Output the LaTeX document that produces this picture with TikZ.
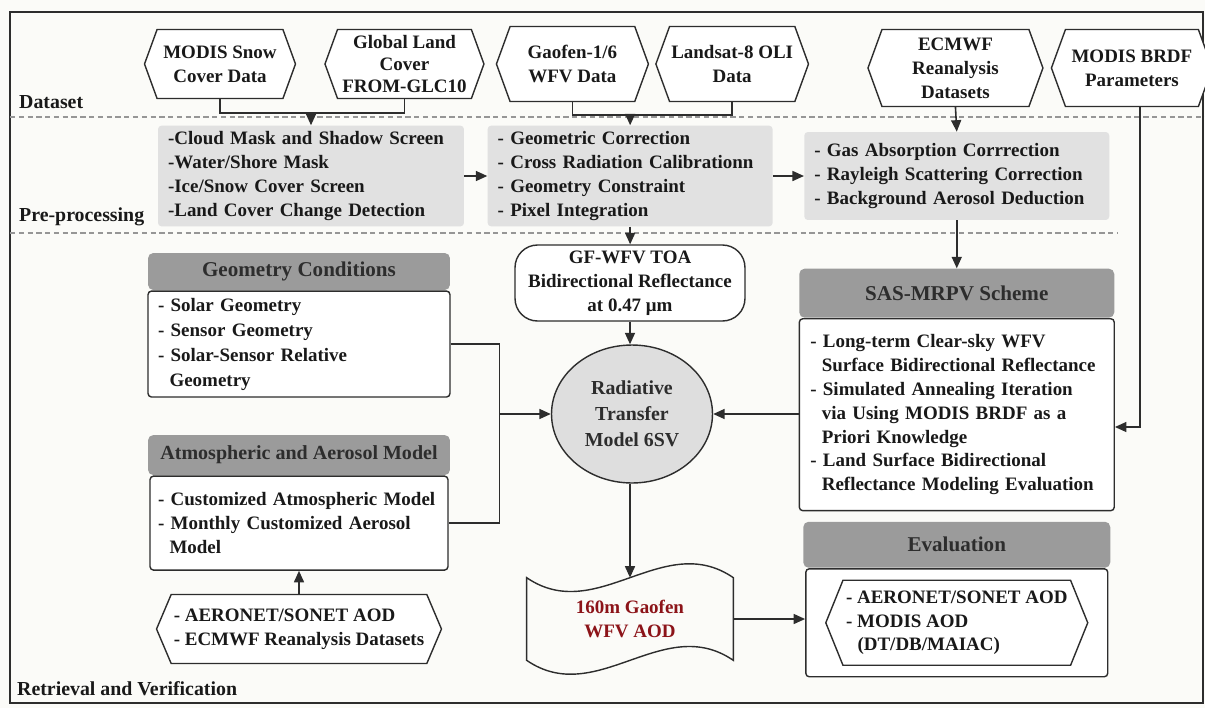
\documentclass[tikz,border=0pt]{standalone}
\usepackage{fontspec}
\setmainfont{Liberation Serif}
\usetikzlibrary{positioning, arrows.meta, shapes.geometric, shapes.symbols}

\definecolor{bgcol}{RGB}{251,251,248}
\definecolor{linecol}{RGB}{45,45,45}
\definecolor{prefill}{RGB}{225,225,225}
\definecolor{headfill}{RGB}{155,155,155}
\definecolor{headtext}{RGB}{45,45,45}
\definecolor{rtmfill}{RGB}{222,222,222}
\definecolor{aodred}{RGB}{140,20,25}
\definecolor{sepcol}{RGB}{150,150,150}

\begin{document}
\begin{tikzpicture}[
    x=0.02cm, y=-0.02cm,
    base/.style = {font=\fontsize{10.8}{13.6}\selectfont\bfseries, text=black!90},
    hexa/.style = {base, signal, signal to=west and east, signal pointer angle=140, draw=linecol, fill=white, line width=0.8pt, align=center, inner sep=1pt, minimum height=1.38cm},
    prebox/.style = {base, rectangle, fill=prefill, rounded corners=2pt, align=left, inner xsep=0.2cm, minimum height=1.84cm},
    head/.style = {base, rectangle, fill=headfill, rounded corners=3pt, text=headtext, font=\fontsize{12}{14}\selectfont\bfseries},
    body/.style = {base, rectangle, draw=linecol, fill=white, line width=0.8pt, rounded corners=2pt, align=left, inner xsep=0.2cm},
    line/.style = {draw=linecol, line width=0.9pt},
    arrow/.style = {line, -{Triangle[length=2.3mm, width=2mm]}},
    sep/.style = {draw=sepcol, line width=0.6pt, dash pattern=on 3pt off 2pt},
    zone/.style = {base, font=\fontsize{11.3}{14}\selectfont\bfseries, anchor=west}
]
    % page and frame
    \fill[bgcol] (0,0) rectangle (1205,708);
    \useasboundingbox (0,0) rectangle (1205,708);
    \draw[linecol, line width=0.9pt] (10,12) rectangle (1203,703);
    \draw[sep] (10,117) -- (1205,117);
    \draw[sep] (10,233) -- (1117,233);

    \node[zone] (lbldata) at (13,102) {Dataset};
    \node[zone] (lblpre) at (13,217) {Pre-processing};
    \node[zone] (lblret) at (11,689) {Retrieval and Verification};

    % datasets
    \node[hexa, minimum width=3.02cm] (snow) at (220,64) {MODIS Snow\\Cover Data};
    \node[hexa, minimum width=3.18cm, right=0.56cm of snow, font=\fontsize{10.8}{12.4}\selectfont\bfseries] (glc) {Global Land\\Cover\\FROM-GLC10};
    \node[hexa, minimum width=3.04cm, minimum height=1.5cm, right=0.22cm of glc] (gaofen) {Gaofen-1/6\\WFV Data};
    \node[hexa, minimum width=3cm, minimum height=1.5cm, right=0.12cm of gaofen] (landsat) {Landsat-8 OLI\\Data};
    \node[hexa, minimum width=3.5cm, minimum height=1.54cm, right=1.16cm of landsat, yshift=-0.08cm] (ecmwf) {ECMWF\\Reanalysis\\Datasets};
    \node[hexa, minimum width=3.22cm, minimum height=1.54cm, right=0.14cm of ecmwf] (brdf) {MODIS BRDF\\Parameters};

    % pre-processing
    \node[prebox, text width=5.72cm] (cloud) at (311,176) {-Cloud Mask and Shadow Screen\\-Water/Shore Mask\\-Ice/Snow Cover Screen\\-Land Cover Change Detection};
    \node[prebox, text width=5.3cm, right=0.46cm of cloud] (geo) {- Geometric Correction\\- Cross Radiation Calibrationn\\- Geometry Constraint\\- Pixel Integration};
    \node[prebox, text width=5.7cm, minimum height=1.76cm, right=0.62cm of geo] (atmcorr) {- Gas Absorption Corrrection\\- Rayleigh Scattering Correction\\- Background Aerosol Deduction};

    % retrieval
    \node[base, draw=linecol, line width=0.8pt, fill=white, rounded corners=0.45cm, align=center, inner ysep=1pt, minimum width=4.6cm, minimum height=1.52cm] (toa) at (630,283) {GF-WFV TOA\\Bidirectional Reflectance\\at 0.47 μm};
    \node[base, ellipse, draw=linecol, fill=rtmfill, line width=0.8pt, align=center, inner sep=0pt, minimum width=3.22cm, minimum height=2.76cm, text=headtext, font=\fontsize{11.3}{14.8}\selectfont\bfseries] (rtm) at (632,414) {Radiative\\Transfer\\Model 6SV};
    \node[base, rectangle, align=center, minimum width=4.12cm, minimum height=1.64cm, text=aodred] (aod) at (630,619) {160m Gaofen\\WFV AOD};
    \draw[line, line width=0.8pt] (aod.north west) .. controls +(70,48) and +(-70,-48) .. (aod.north east)
        -- (aod.south east) .. controls +(-70,-48) and +(70,48) .. (aod.south west) -- cycle;

    \node[head, minimum width=6.04cm, minimum height=0.74cm] (geohead) at (299,271.5) {Geometry Conditions};
    \node[body, text width=5.64cm, minimum height=2.12cm, below=0pt of geohead, font=\fontsize{10.8}{14.2}\selectfont\bfseries] (geobody) {- Solar Geometry\\- Sensor Geometry\\- Solar-Sensor Relative\\\hspace*{2.3mm}Geometry};
    \node[head, minimum width=6.04cm, minimum height=0.8cm, below=0.74cm of geobody, font=\fontsize{11.4}{14}\selectfont\bfseries] (atmhead) {Atmospheric and Aerosol Model};
    \node[body, text width=5.64cm, minimum height=1.88cm, below=0pt of atmhead, inner xsep=0.16cm] (atmbody) {- Customized Atmospheric Model\\- Monthly Customized Aerosol\\\hspace*{2.3mm}Model};
    \node[hexa, signal pointer angle=134, minimum width=5.7cm, align=left, below=0.46cm of atmbody] (aeronet) {- AERONET/SONET AOD\\- ECMWF Reanalysis Datasets};

    \node[head, minimum width=6.3cm, minimum height=0.98cm, below=0.96cm of atmcorr] (sashead) {SAS-MRPV Scheme};
    \node[body, text width=5.86cm, inner xsep=0.22cm, minimum height=3.84cm, below=0pt of sashead] (sasbody) {- Long-term Clear-sky WFV\\\hspace*{2.3mm}Surface Bidirectional Reflectance\\- Simulated Annealing Iteration\\\hspace*{2.3mm}via Using MODIS BRDF as a\\\hspace*{2.3mm}Priori Knowledge\\- Land Surface Bidirectional\\\hspace*{2.3mm}Reflectance Modeling Evaluation};

    \node[head, minimum width=6.14cm, minimum height=0.92cm, below=0.2cm of sasbody] (evalhead) {Evaluation};
    \node[body, minimum width=6.04cm, minimum height=2.16cm, below=0pt of evalhead] (evalbody) {};
    \node[hexa, signal pointer angle=136, minimum width=5.24cm, minimum height=1.7cm, align=left] (evalsrc) at (evalbody.center) {- AERONET/SONET AOD\\- MODIS AOD\\\hspace*{2.3mm}(DT/DB/MAIAC)};

    % connectors
    \draw[line] (snow.south) -- ++(0,14) coordinate (snowknee) -| (glc.south);
    \draw[arrow] (snowknee -| cloud.north) -- (cloud.north);
    \draw[line] (gaofen.south) -- ++(0,13) coordinate (gfknee) -| (landsat.south);
    \draw[arrow] (gfknee -| geo.north) -- (geo.north);
    \draw[arrow] (ecmwf.south) -- (atmcorr.north);
    \coordinate (brdfdrop) at (1140,427);
    \draw[arrow] (brdf.south -| brdfdrop) |- (sasbody.east |- brdfdrop);

    \draw[arrow] (cloud.east) -- (geo.west);
    \draw[arrow] (geo.east) -- (atmcorr.west);
    \draw[arrow] (geo.south) -- (geo.south |- toa.north);
    \draw[arrow] (toa.south) -- (toa.south |- rtm.north);
    \draw[arrow] (atmcorr.south) -- (sashead.north);

    \coordinate[left=1.03cm of rtm.west] (merge);
    \draw[line] (geobody.east) -| (merge) |- (atmbody.east);
    \draw[arrow] (merge) -- (rtm.west);
    \draw[arrow] (rtm.east -| sasbody.west) -- (rtm.east);
    \draw[arrow] (rtm.south -| toa.south) -- (toa.south |- aod.north);
    \draw[arrow] (aod.east) -- (aod.east -| evalbody.west);
    \draw[arrow] (aeronet.north) -- (atmbody.south);
\end{tikzpicture}
\end{document}
